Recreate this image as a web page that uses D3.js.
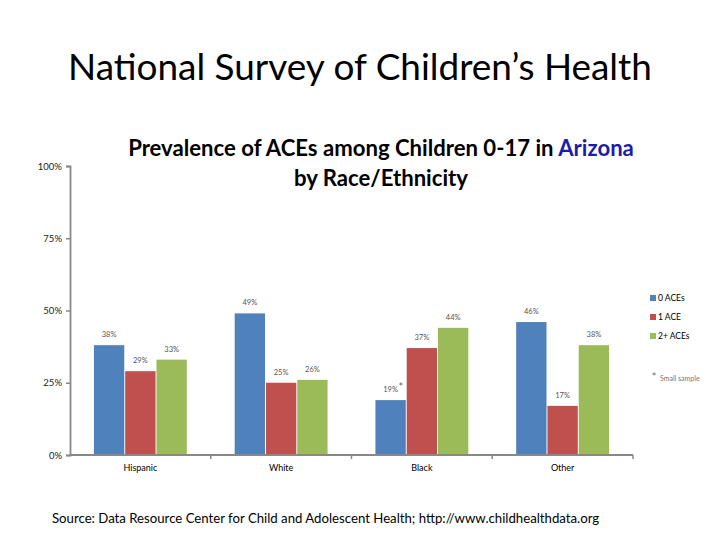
<!DOCTYPE html>
<html><head><meta charset="utf-8">
<script src="https://cdn.jsdelivr.net/npm/d3@7"></script>
<style>body{margin:0;background:#fff}svg{display:block}</style>
</head><body>
<script>
const categories = ["Hispanic", "White", "Black", "Other"];
const seriesNames = ["0 ACEs", "1 ACE", "2+ ACEs"];
const zeroACEs = [38, 49, 19, 46];
const oneACE = [29, 25, 37, 17];
const twoPlusACEs = [33, 26, 44, 38];
const yTicks = [0, 25, 50, 75, 100];
const yTickLabels = ["0%", "25%", "50%", "75%", "100%"];
const colors = ["#4f81bd", "#c0504d", "#9bbb59"];
const smallSample = [[2, 0]]; // Black, 0 ACEs

const W = 720, H = 540;
const svg = d3.select("body").append("svg").attr("width", W).attr("height", H);
const font = "Lato, 'Liberation Sans', sans-serif";

function fit(sel, target) {
  const n = sel.node();
  const fs = parseFloat(sel.attr("font-size"));
  const w = n.getComputedTextLength();
  sel.attr("font-size", fs * target / w);
}

// Titles
const t = svg.append("text").attr("x", 360).attr("y", 80).attr("text-anchor", "middle")
  .attr("font-family", font).attr("font-size", 34).attr("fill", "#000")
  .text("National Survey of Children\u2019s Health");
fit(t, 584);

const s1 = svg.append("text").attr("x", 381).attr("y", 156).attr("text-anchor", "middle")
  .attr("font-family", font).attr("font-weight", "bold").attr("font-size", 20).attr("fill", "#000");
s1.append("tspan").text("Prevalence of ACEs among Children 0-17 in ");
s1.append("tspan").attr("fill", "#1c1ca8").text("Arizona");
fit(s1, 506);
svg.append("text").attr("x", 381).attr("y", 186).attr("text-anchor", "middle")
  .attr("font-family", font).attr("font-weight", "bold").attr("font-size", s1.attr("font-size")).attr("fill", "#000")
  .text("by Race/Ethnicity");

// Scales
const x0 = d3.scaleBand().domain(categories).range([70, 633]).paddingInner(0.34).paddingOuter(0.17);
const x1 = d3.scaleBand().domain(seriesNames).range([0, x0.bandwidth()]).paddingInner(0.03);
const y = d3.scaleLinear().domain([0, 100]).range([455, 166]);

const values = [zeroACEs, oneACE, twoPlusACEs];
const data = categories.map((c, i) => ({c, vals: seriesNames.map((s, j) => ({s, j, v: values[j][i], i}))}));

const g = svg.append("g");
const groups = g.selectAll("g.cat").data(data).join("g").attr("transform", d => `translate(${x0(d.c)},0)`);
groups.selectAll("rect").data(d => d.vals).join("rect")
  .attr("x", d => x1(d.s)).attr("width", x1.bandwidth())
  .attr("y", d => y(d.v)).attr("height", d => y(0) - y(d.v))
  .attr("fill", d => colors[d.j]);
groups.selectAll("text.lbl").data(d => d.vals).join("text").attr("class", "lbl")
  .attr("x", d => x1(d.s) + x1.bandwidth() / 2).attr("y", d => y(d.v) - 8)
  .attr("text-anchor", "middle").attr("font-family", font).attr("font-size", 7.5).attr("fill", "#555")
  .text(d => d.v + "%");

// asterisk for small sample
smallSample.forEach(([ci, si]) => {
  const v = values[si][ci];
  svg.append("text").attr("x", x0(categories[ci]) + x1(seriesNames[si]) + x1.bandwidth() - 5)
    .attr("y", y(v) - 9).attr("text-anchor", "middle").attr("font-family", font).attr("font-size", 11).attr("fill", "#666").text("*");
});

// Y axis
const yAxis = d3.axisLeft(y).tickValues(yTicks).tickFormat((d, i) => yTickLabels[i]).tickSize(4).tickPadding(4);
const ya = svg.append("g").attr("transform", "translate(70,0)").call(yAxis);
ya.select(".domain").attr("stroke", "#888").attr("stroke-width", 1.8);
ya.selectAll(".tick line").attr("stroke", "#888").attr("stroke-width", 1.5);
ya.selectAll(".tick text").attr("font-family", font).attr("font-size", 9.5).attr("fill", "#222");

// X axis
const xa = svg.append("g").attr("transform", "translate(0,455)");
xa.append("line").attr("x1", 70).attr("x2", 633).attr("stroke", "#888").attr("stroke-width", 1.8);
const bounds = categories.map(c => x0(c) - x0.step() * x0.paddingInner() / 2).slice(1).concat([633]);
xa.selectAll("line.tk").data(bounds).join("line").attr("class", "tk")
  .attr("x1", d => d).attr("x2", d => d).attr("y1", 0).attr("y2", 4).attr("stroke", "#888").attr("stroke-width", 1.5);
xa.selectAll("text").data(categories).join("text")
  .attr("x", d => x0(d) + x0.bandwidth() / 2).attr("y", 16).attr("text-anchor", "middle")
  .attr("font-family", font).attr("font-size", 9).attr("fill", "#000").text(d => d);

// Legend
const lg = svg.append("g").attr("transform", "translate(650,298)");
seriesNames.forEach((s, i) => {
  lg.append("rect").attr("x", 0).attr("y", i * 19 - 3).attr("width", 6).attr("height", 6).attr("fill", colors[i]);
  lg.append("text").attr("x", 8).attr("y", i * 19 + 3).attr("font-family", font).attr("font-size", 8.5).attr("fill", "#000").text(s);
});
svg.append("text").attr("x", 654).attr("y", 381).attr("text-anchor", "middle").attr("font-family", font).attr("font-size", 12).attr("fill", "#777").text("*");
svg.append("text").attr("x", 660).attr("y", 381).attr("font-family", font).attr("font-size", 7).attr("fill", "#777").text("Small sample");

// Source
const src = svg.append("text").attr("x", 52).attr("y", 523).attr("font-family", font).attr("font-size", 13).attr("fill", "#000")
  .text("Source: Data Resource Center for Child and Adolescent Health; http://www.childhealthdata.org");
fit(src, 548);
</script>
</body></html>
